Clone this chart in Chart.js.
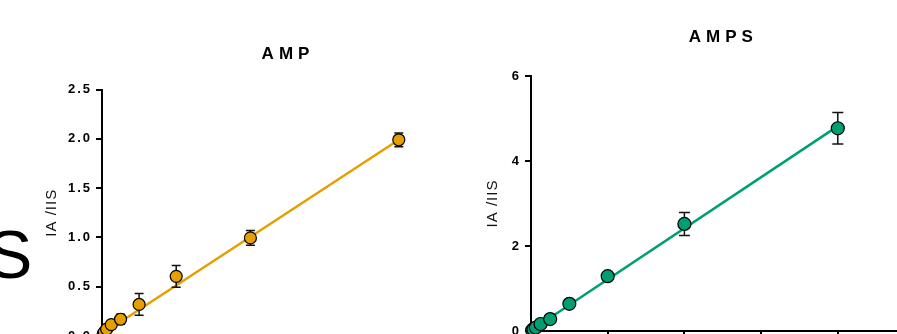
<!DOCTYPE html>
<html>
<head>
<meta charset="utf-8">
<script src="https://cdn.jsdelivr.net/npm/chart.js@4.4.1/dist/chart.umd.min.js"></script>
<style>
  html, body { margin: 0; padding: 0; background: #fff; }
  body { width: 897px; height: 334px; overflow: hidden; position: relative; }
  canvas { position: absolute; top: 0; }
  #amp { left: 0; }
  #amps { left: 450px; }
  .letter { position: absolute; left: -13px; top: 220px; font: 68px/68px "Liberation Sans", Arial, sans-serif; color: #000; }
</style>
</head>
<body>
<div class="letter">S</div>
<canvas id="amp" width="500" height="420"></canvas>
<canvas id="amps" width="500" height="420"></canvas>
<script>
// concentration series (same dilution steps for both panels)
const concentrations = [0.78125, 1.5625, 3.125, 6.25, 12.5, 25, 50, 100, 200];

// AMP
const ampRatio = [0.02, 0.04, 0.07, 0.115, 0.17, 0.32, 0.605, 0.995, 1.99];
const ampSd    = [0.005, 0.01, 0.015, 0.02, 0.05, 0.11, 0.11, 0.075, 0.07];
const ampFitX  = [0, 200];
const ampFitY  = [0.02, 1.99];
const ampYTicks = [0, 0.5, 1.0, 1.5, 2.0, 2.5];

// AMPS
const ampsRatio = [0.02, 0.04, 0.08, 0.165, 0.28, 0.64, 1.29, 2.52, 4.77];
const ampsSd    = [0.01, 0.02, 0.03, 0.04, 0.05, 0.06, 0.08, 0.27, 0.37];
const ampsFitX  = [0, 200];
const ampsFitY  = [0.01, 4.82];
const ampsYTicks = [0, 2, 4, 6];

const xTicks = [0, 50, 100, 150, 200, 250];

const FONT = '"Liberation Sans", Arial, sans-serif';
Chart.defaults.font.family = FONT;
Chart.defaults.color = '#111';

const toPoints = (xs, ys) => xs.map((x, i) => ({ x, y: ys[i] }));

// error bars go after the fit line and under the markers
const errorBars = {
  id: 'errorBars',
  afterDatasetDraw(chart, args, opts) {
    if (args.index !== 1) return;
    const ds = chart.data.datasets[0];
    const meta = chart.getDatasetMeta(0);
    const y = chart.scales.y, ctx = chart.ctx;
    ctx.save();
    ctx.strokeStyle = '#111';
    ctx.lineWidth = 1.5;
    meta.data.forEach((pt, i) => {
      const v = ds.data[i].y, e = ds.sd[i];
      const top = y.getPixelForValue(v + e), bot = y.getPixelForValue(v - e);
      ctx.beginPath();
      ctx.moveTo(pt.x, top); ctx.lineTo(pt.x, bot);
      ctx.moveTo(pt.x - opts.cap, top); ctx.lineTo(pt.x + opts.cap, top);
      ctx.moveTo(pt.x - opts.cap, bot); ctx.lineTo(pt.x + opts.cap, bot);
      ctx.stroke();
    });
    ctx.restore();
  }
};

// spaced-out lettering like the exported figure
const spacing = {
  id: 'spacing',
  beforeUpdate(chart) { chart.ctx.letterSpacing = '2px'; },
  beforeDraw(chart) { chart.ctx.letterSpacing = '1px'; },       // axis titles
  afterDatasetsDraw(chart) { chart.ctx.letterSpacing = '2px'; } // tick labels (z = 1)
};

const panelTitle = {
  id: 'panelTitle',
  afterDraw(chart, args, opts) {
    const { ctx, chartArea } = chart;
    ctx.save();
    ctx.font = 'bold 17px ' + FONT;
    ctx.letterSpacing = '5px';
    ctx.fillStyle = '#000';
    ctx.textAlign = 'center';
    ctx.textBaseline = 'middle';
    ctx.fillText(opts.text, (chartArea.left + chartArea.right) / 2 + 2.5 + opts.dx, opts.y);
    ctx.restore();
  }
};

function makePanel(id, o) {
  const axisLine = { color: '#000', width: 2 };
  const tickGrid = { drawOnChartArea: false, drawTicks: true, tickLength: 6, color: '#000', lineWidth: 2 };
  return new Chart(document.getElementById(id), {
    type: 'scatter',
    data: {
      datasets: [
        {
          data: toPoints(concentrations, o.ratio),
          sd: o.sd,
          backgroundColor: o.color,
          pointBackgroundColor: o.color,
          pointBorderColor: '#000',
          pointBorderWidth: 1.2,
          pointRadius: o.radius,
          showLine: false,
          clip: false
        },
        {
          data: toPoints(o.fitX, o.fitY),
          showLine: true,
          borderColor: o.color,
          borderWidth: 2.5,
          pointRadius: 0,
          clip: false
        }
      ]
    },
    options: {
      responsive: false,
      animation: false,
      events: [],
      layout: { padding: o.padding },
      plugins: {
        legend: { display: false },
        tooltip: { enabled: false },
        errorBars: { cap: o.cap },
        panelTitle: { text: o.title, y: o.titleY, dx: o.titleDx }
      },
      scales: {
        x: {
          type: 'linear', min: 0, max: 250,
          afterBuildTicks: s => { s.ticks = xTicks.map(v => ({ value: v })); },
          afterFit: s => { s.height = 40; },
          border: axisLine,
          grid: tickGrid,
          ticks: { z: 1, padding: 4, color: '#000', font: { size: 13, weight: 'bold' } }
        },
        y: {
          type: 'linear', min: 0, max: o.yMax,
          afterBuildTicks: s => { s.ticks = o.yTicks.map(v => ({ value: v })); },
          afterFit: s => { s.width = o.yWidth; },
          border: axisLine,
          grid: tickGrid,
          ticks: { z: 1, padding: 4, color: '#000', font: { size: 13, weight: 'bold' }, callback: o.fmt },
          title: { display: true, text: 'IA /IIS', color: '#111', padding: 0, font: { size: 15, weight: 'normal' } }
        }
      }
    },
    plugins: [spacing, errorBars, panelTitle]
  });
}

makePanel('amp', {
  title: 'AMP', titleY: 54, titleDx: -2,
  ratio: ampRatio, sd: ampSd, fitX: ampFitX, fitY: ampFitY,
  color: '#E69F00', radius: 6, cap: 4.5,
  yMax: 2.5, yTicks: ampYTicks, fmt: v => Number(v).toFixed(1),
  yWidth: 59,
  padding: { left: 43, top: 89.5, right: 27, bottom: 44 }
});

makePanel('amps', {
  title: 'AMPS', titleY: 37, titleDx: -2,
  ratio: ampsRatio, sd: ampsSd, fitX: ampsFitX, fitY: ampsFitY,
  color: '#009E73', radius: 6.5, cap: 5.5,
  yMax: 6, yTicks: ampsYTicks, fmt: v => String(v),
  yWidth: 47,
  padding: { left: 34, top: 76, right: 35.5, bottom: 49 }
});
</script>
</body>
</html>
